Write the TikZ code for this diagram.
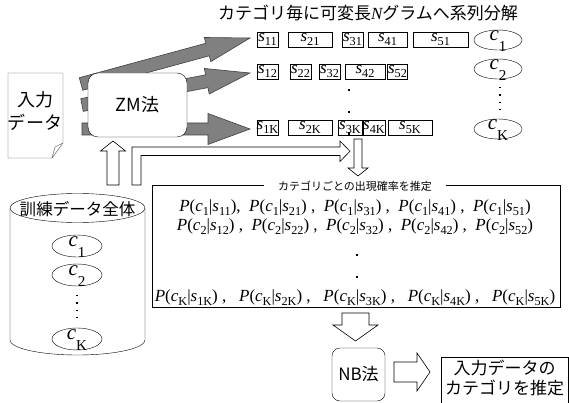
\documentclass[tikz,border=0pt]{standalone}
\usepackage{fontspec}
\setmainfont{Liberation Serif}
\newfontfamily\jp{Noto Sans CJK JP}
\usetikzlibrary{calc,shapes.geometric}
\newcommand\lowsub[1]{\raisebox{-0.22em}{\scalebox{0.72}{#1}}}
\newcommand\seqs[1]{\textit{s}\lowsub{#1}}
\newcommand\pcs[2]{\textit{P}(\textit{c}\lowsub{#1}|\textit{s}\lowsub{#2})}
\newcommand\catlab[1]{\textit{c}\raisebox{-0.5em}{\scalebox{0.72}{#1}}}
\newcommand\fatarrow[5]{%
  \path ($(#2)!#5!(#1)$) coordinate (fah);
  \filldraw[grayarrow] ($(#1)!#3!90:(#2)$) -- ($(fah)!#3!90:(#2)$) -- ($(fah)!#4!90:(#2)$) -- (#2) -- ($(fah)!#4!-90:(#2)$) -- ($(fah)!#3!-90:(#2)$) -- ($(#1)!#3!-90:(#2)$) -- cycle;}
\begin{document}
\begin{tikzpicture}[x=1pt,y=-1pt,
  jpt/.style={font=\jp\fontsize{#1}{#1}\selectfont},
  seqbox/.style={draw, fill=white, minimum height=15pt, inner sep=0pt, font=\fontsize{17}{17}\selectfont},
  cat/.style={draw, ellipse, minimum width=48pt, minimum height=20pt, inner sep=0pt},
  catlabel/.style={font=\fontsize{21}{21}\selectfont, inner sep=0pt},
  grayarrow/.style={fill=black!50, draw=black!75, line width=0.6pt},
  hollow/.style={fill=white, draw=black, line width=0.6pt},
  dotmark/.style={fill=black, inner sep=0pt, minimum size=2.5pt},
  rowtext/.style={font=\fontsize{17}{17}\selectfont, inner sep=0pt},
]
\useasboundingbox (0,0) rectangle (569,403);
\fill[white] (0,0) rectangle (569,403);

% title
\node[jpt=17] (title) at (368,13) {カテゴリ毎に可変長{\rmfamily\itshape N}グラムへ系列分解};

% gray arrows
\coordinate (a1t) at (81,84); \coordinate (a1h) at (250,38);
\fatarrow{a1t}{a1h}{6.5pt}{12.5pt}{44pt}
\coordinate (a2t) at (82,105); \coordinate (a2h) at (250,73);
\fatarrow{a2t}{a2h}{6.5pt}{13pt}{44pt}
\coordinate (a3t) at (82,129); \coordinate (a3h) at (250,129);
\fatarrow{a3t}{a3h}{6pt}{15.5pt}{42pt}

% input document
\draw[black!70, fill=white] (8,73) -- (63,73) -- (63,143) -- (52,158) -- (8,158) -- cycle;
\draw[black!70] (52,158) .. controls (54,152) .. (55,147) -- (63,143);
\node[jpt=18] (doc1) at (35,100) {入力};
\node[jpt=18] (doc2) at (35,122) {データ};

% ZM
\node[draw, fill=white, rounded corners=10pt, minimum width=99pt, minimum height=64pt, jpt=18] (zm) at (137.5,105) {ZM法};

% sequences row 1
\node[seqbox, minimum width=21pt] (s11) at (267.5,39.5) {\seqs{11}};
\node[seqbox, minimum width=44pt] (s21) at (310,39.5) {\seqs{21}};
\node[seqbox, minimum width=21pt] (s31) at (352.5,39.5) {\seqs{31}};
\node[seqbox, minimum width=39pt] (s41) at (387.5,39.5) {\seqs{41}};
\node[seqbox, minimum width=55pt] (s51) at (440.5,39.5) {\seqs{51}};
% row 2
\node[seqbox, minimum width=21pt] (s12) at (267.5,71.5) {\seqs{12}};
\node[seqbox, minimum width=21pt] (s22) at (300.5,71.5) {\seqs{22}};
\node[seqbox, minimum width=21pt] (s32) at (329.5,71.5) {\seqs{32}};
\node[seqbox, minimum width=40pt] (s42) at (365,71.5) {\seqs{42}};
\node[seqbox, minimum width=20pt] (s52) at (397.5,71.5) {\seqs{52}};
% row K
\node[seqbox, minimum width=21pt] (s1K) at (267.5,127.5) {\seqs{1K}};
\node[seqbox, minimum width=44pt] (s2K) at (310,127.5) {\seqs{2K}};
\node[seqbox, minimum width=24pt] (s3K) at (350,127.5) {\seqs{3K}};
\node[seqbox, minimum width=22pt] (s4K) at (374,127.5) {\seqs{4K}};
\node[seqbox, minimum width=44pt] (s5K) at (410,127.5) {\seqs{5K}};
% dots
\node[dotmark] (d1) at (349,90) {};
\node[dotmark] (d2) at (349,112) {};
\node[dotmark] (d3) at (349,133.5) {};

% categories right
\node[cat] (c1) at (498,40) {};
\node[catlabel] (c1l) at (498,41) {\catlab{1}};
\node[cat] (c2) at (498,69) {};
\node[catlabel] (c2l) at (498,70) {\catlab{2}};
\node[cat] (cK) at (498,129) {};
\node[catlabel] (cKl) at (498,130) {\catlab{K}};
\draw[line width=1.3pt, dash pattern=on 1.3pt off 6pt] (500,87) -- (500,111);

% hollow arrows
\draw[hollow] (354,139) -- (362,139) -- (362,168) -- (368,168) -- (358,176) -- (348,168) -- (354,168) -- cycle;
\draw[hollow] (132,185) -- (132,147) -- (340,147) -- (340,141) -- (350,151.25) -- (340,161.5) -- (340,155.5) -- (141,155.5) -- (141,185) -- cycle;
\draw[hollow] (107,185) -- (107,151) -- (100.5,151) -- (113,141) -- (125.5,151) -- (119,151) -- (119,185) -- cycle;

% cylinder
\draw[fill=white] (10,208) -- (10,340) arc[start angle=180, end angle=360, x radius=67.5pt, y radius=15pt] -- (145,208);
\node[draw, fill=white, ellipse, minimum width=135pt, minimum height=29pt, inner sep=0pt] (cyl) at (77.5,208) {};
\node[jpt=16.5] (cyltext) at (77.5,209) {訓練データ全体};
\node[cat, minimum width=50pt, minimum height=22pt] (tc1) at (77,246) {};
\node[catlabel] (tc1l) at (77,247) {\catlab{1}};
\node[cat, minimum width=50pt, minimum height=22pt] (tc2) at (77,275) {};
\node[catlabel] (tc2l) at (77,276) {\catlab{2}};
\node[cat, minimum width=50pt, minimum height=22pt] (tcK) at (77,339) {};
\node[catlabel] (tcKl) at (77,340) {\catlab{K}};
\draw[line width=1.3pt, dash pattern=on 1.3pt off 6pt] (77,295) -- (77,318);

% probability box
\node[draw, minimum width=408pt, minimum height=122pt, inner sep=0pt] (prob) at (356,246) {};
\node[jpt=11, fill=white, inner xsep=14pt, inner ysep=1pt] (probtitle) at (355,186) {カテゴリごとの出現確率を推定};
\node[rowtext] (r1) at (355,208) {\pcs{1}{11},\ \ \pcs{1}{21}\ ,\ \ \pcs{1}{31}\ ,\ \ \pcs{1}{41}\ ,\ \ \pcs{1}{51}};
\node[rowtext] (r2) at (355,227) {\pcs{2}{12}\ ,\ \ \pcs{2}{22}\ ,\ \ \pcs{2}{32}\ ,\ \ \pcs{2}{42}\ ,\ \ \pcs{2}{52}};
\node[dotmark] (pd1) at (357,255) {};
\node[dotmark] (pd2) at (357,277) {};
\node[rowtext] (rK) at (355,298) {\pcs{K}{1K}\ ,\ \ \ \pcs{K}{2K}\ ,\ \ \ \pcs{K}{3K}\ ,\ \ \ \pcs{K}{4K}\ ,\ \ \ \pcs{K}{5K}};

% down to NB
\draw[hollow] (342,313) -- (369,313) -- (369,325) -- (378,325) -- (355.5,341) -- (333,325) -- (342,325) -- cycle;
\node[draw, fill=white, rounded corners=8pt, minimum width=53pt, minimum height=53pt, jpt=17] (nb) at (358.5,374.5) {NB法};
\draw[hollow] (394,362) -- (417,362) -- (417,353) -- (430,372) -- (417,391) -- (417,382) -- (394,382) -- cycle;
\node[draw, minimum width=127pt, minimum height=46pt] (res) at (504.5,380) {};
\node[font=\jp\fontsize{17}{20}\selectfont, align=center] (restext) at (504.5,378) {入力データの\\カテゴリを推定};
\end{tikzpicture}
\end{document}
